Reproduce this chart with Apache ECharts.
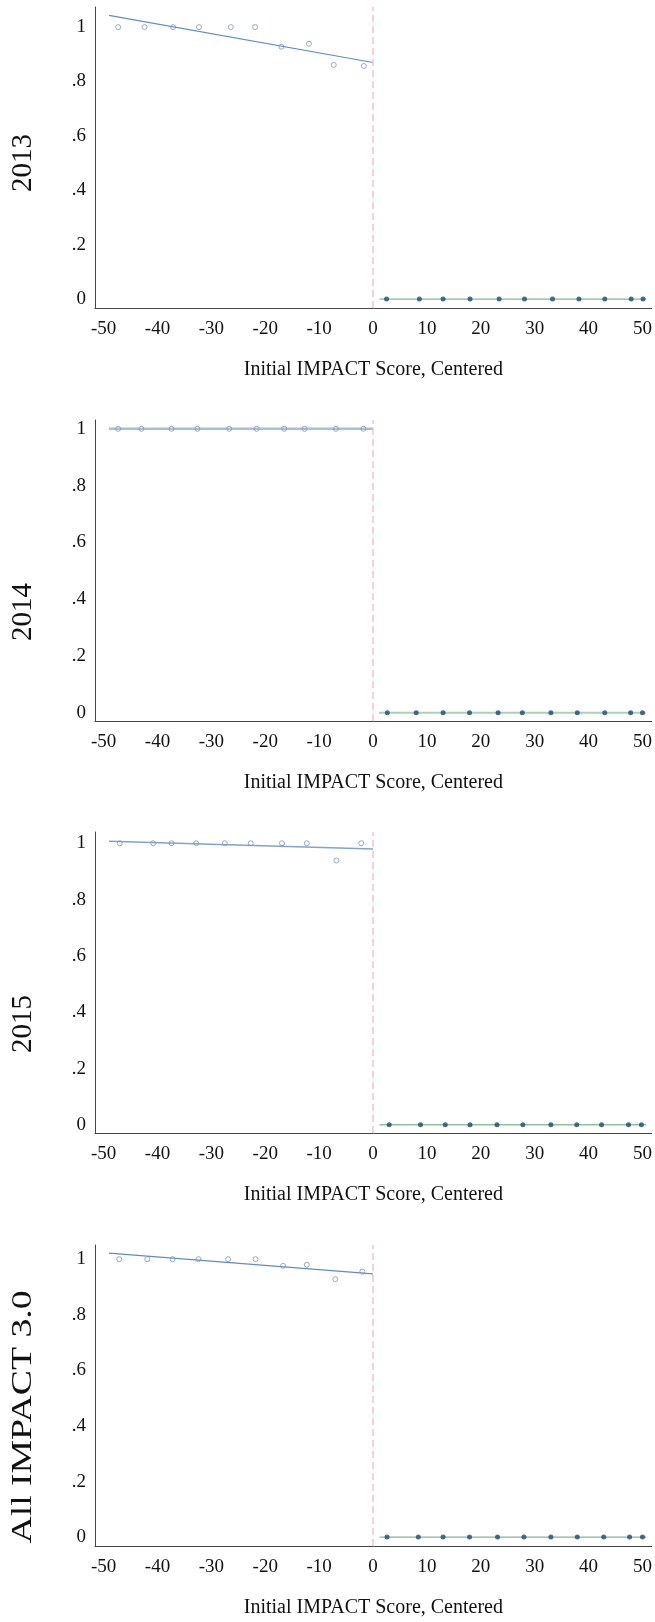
<!DOCTYPE html>
<html>
<head>
<meta charset="utf-8">
<script src="https://cdn.jsdelivr.net/npm/echarts@6/dist/echarts.min.js"></script>
<style>
html,body{margin:0;padding:0;background:#fff;}
#chart{width:655px;height:1622px;}
</style>
</head>
<body>
<div id="chart"></div>
<script>
// ---- data ----
const xTicks = [-50, -40, -30, -20, -10, 0, 10, 20, 30, 40, 50];
const yTicks = [0, 0.2, 0.4, 0.6, 0.8, 1];
const panelNames = ['2013', '2014', '2015', 'All IMPACT 3.0'];
const xAxisTitle = 'Initial IMPACT Score, Centered';

// left of cutoff: binned means (open circles)
const left2013X = [-47.3, -42.4, -37.1, -32.3, -26.4, -21.9, -17.0, -11.9, -7.3, -1.7];
const left2013Y = [1, 1, 1, 1, 1, 1, 0.928, 0.939, 0.861, 0.857];
const left2014X = [-47.3, -43.0, -37.4, -32.6, -26.7, -21.6, -16.5, -12.7, -6.9, -1.8];
const left2014Y = [1, 1, 1, 1, 1, 1, 1, 1, 1, 1];
const left2015X = [-47.0, -40.8, -37.4, -32.8, -27.5, -22.7, -16.9, -12.3, -6.8, -2.2];
const left2015Y = [1, 1, 1, 1, 1, 1, 1, 1, 0.939, 1];
const leftAllX = [-47.1, -41.9, -37.2, -32.4, -26.9, -21.8, -16.7, -12.3, -7.0, -2.0];
const leftAllY = [1, 1, 1, 1, 1, 1, 0.976, 0.98, 0.928, 0.955];

// left fitted line endpoints [x, y]
const fitLeft2013 = [[-49, 1.043], [0, 0.870]];
const fitLeft2014 = [[-49, 1.0], [0, 1.0]];
const fitLeft2015 = [[-49, 1.007], [0, 0.980]];
const fitLeftAll = [[-49, 1.022], [0, 0.947]];

// right of cutoff: binned means (filled dots)
const right2013X = [2.5, 8.6, 13.0, 18.0, 23.4, 28.1, 33.3, 38.2, 43.0, 47.9, 50.1];
const right2013Y = [0, 0, 0, 0, 0, 0, 0, 0, 0, 0, 0];
const right2014X = [2.65, 8.0, 13.0, 17.9, 23.2, 27.7, 33.0, 37.9, 43.0, 47.8, 50.0];
const right2014Y = [0, 0, 0, 0, 0, 0, 0, 0, 0, 0, 0];
const right2015X = [3.0, 8.8, 13.4, 18.0, 23.0, 27.8, 33.0, 37.8, 42.4, 47.4, 49.8];
const right2015Y = [0, 0, 0, 0, 0, 0, 0, 0, 0, 0, 0];
const rightAllX = [2.6, 8.4, 13.0, 17.9, 23.1, 28.0, 33.0, 37.9, 42.8, 47.6, 50.0];
const rightAllY = [0, 0, 0, 0, 0, 0, 0, 0, 0, 0, 0];

// right fitted line endpoints
const fitRight2013 = [[1.2, 0], [50.7, 0]];
const fitRight2014 = [[1.1, 0], [50.6, 0]];
const fitRight2015 = [[1.2, 0], [50.7, 0]];
const fitRightAll = [[1.2, 0], [50.7, 0]];

// y axis ranges per panel
const yMins = [-0.033, -0.029, -0.029, -0.032];
const yMaxs = [1.074, 1.031, 1.040, 1.051];
const xMin = -51.6, xMax = 51.7;

// ---- build ----
const leftX = [left2013X, left2014X, left2015X, leftAllX];
const leftY = [left2013Y, left2014Y, left2015Y, leftAllY];
const rightX = [right2013X, right2014X, right2015X, rightAllX];
const rightY = [right2013Y, right2014Y, right2015Y, rightAllY];
const fitL = [fitLeft2013, fitLeft2014, fitLeft2015, fitLeftAll];
const fitR = [fitRight2013, fitRight2014, fitRight2015, fitRightAll];

const FONT = "'Liberation Serif','Times New Roman',serif";
const gridTops = [7, 420, 832, 1245];
const gridH = 301;
const titleCenters = [163, 612, 1024, 1417];
const titleStretch = [1, 1, 1, 1.3];
const leftLineStyle = [
  {color: '#5d8ccb', width: 1.2},
  {color: '#a6bfdd', width: 2.5},
  {color: '#7fa3d2', width: 1.5},
  {color: '#5d8ccb', width: 1.2}
];
const rightLineStyle = [
  {color: '#7fb890', width: 1.2},
  {color: '#a9d2b3', width: 2.2},
  {color: '#8fc29d', width: 1.5},
  {color: '#7fb890', width: 1.2}
];

const grids = [], xAxes = [], yAxes = [], series = [], graphics = [];
for (let i = 0; i < 4; i++) {
  grids.push({left: 95, right: 2, top: gridTops[i], height: gridH});
  xAxes.push({
    type: 'value', gridIndex: i, min: xMin, max: xMax,
    axisLine: {show: true, onZero: false, lineStyle: {color: '#444', width: 1}},
    axisTick: {show: false},
    splitLine: {show: false},
    axisLabel: {
      customValues: xTicks, margin: 12, color: '#111',
      fontFamily: FONT, fontSize: 19,
      formatter: v => String(v)
    },
    name: xAxisTitle, nameLocation: 'middle', nameGap: 52,
    nameTextStyle: {fontFamily: FONT, fontSize: 20, color: '#111'}
  });
  yAxes.push({
    type: 'value', gridIndex: i, min: yMins[i], max: yMaxs[i],
    axisLine: {show: true, onZero: false, lineStyle: {color: '#444', width: 1}},
    axisTick: {show: false},
    splitLine: {show: false},
    axisLabel: {
      customValues: yTicks, margin: 9, color: '#111',
      fontFamily: FONT, fontSize: 19,
      formatter: v => {
        if (Math.abs(v) < 1e-9) return '0';
        if (Math.abs(v - 1) < 1e-9) return '1';
        return '.' + Math.round(v * 10);
      }
    }
  });
  series.push({
    type: 'line', xAxisIndex: i, yAxisIndex: i, data: fitL[i],
    showSymbol: false, symbol: 'none', lineStyle: leftLineStyle[i], z: 3, silent: true,
    markLine: {
      silent: true, symbol: 'none', label: {show: false},
      lineStyle: {type: [7, 4], color: '#f2c3cc', width: 1.5},
      data: [{xAxis: 0}]
    }
  });
  series.push({
    type: 'scatter', xAxisIndex: i, yAxisIndex: i,
    data: leftX[i].map((x, k) => [x, leftY[i][k]]),
    symbol: 'circle', symbolSize: 5,
    itemStyle: {color: 'rgba(255,255,255,0)', borderColor: '#8096b8', borderWidth: 1},
    z: 4, silent: true
  });
  series.push({
    type: 'line', xAxisIndex: i, yAxisIndex: i, data: fitR[i],
    showSymbol: false, symbol: 'none', lineStyle: rightLineStyle[i], z: 3, silent: true
  });
  series.push({
    type: 'scatter', xAxisIndex: i, yAxisIndex: i,
    data: rightX[i].map((x, k) => [x, rightY[i][k]]),
    symbol: 'circle', symbolSize: 5,
    itemStyle: {color: '#1d4a74'},
    z: 4, silent: true
  });
  graphics.push({
    type: 'text', x: 23, y: titleCenters[i], rotation: Math.PI / 2,
    scaleX: titleStretch[i], scaleY: 1,
    style: {
      text: panelNames[i], fontFamily: FONT, fontSize: 29, fill: '#111',
      textAlign: 'center', textVerticalAlign: 'middle'
    }
  });
}

const chart = echarts.init(document.getElementById('chart'), null, {renderer: 'canvas'});
chart.setOption({
  animation: false,
  backgroundColor: '#fff',
  grid: grids, xAxis: xAxes, yAxis: yAxes, series: series,
  graphic: graphics
});
</script>
</body>
</html>
